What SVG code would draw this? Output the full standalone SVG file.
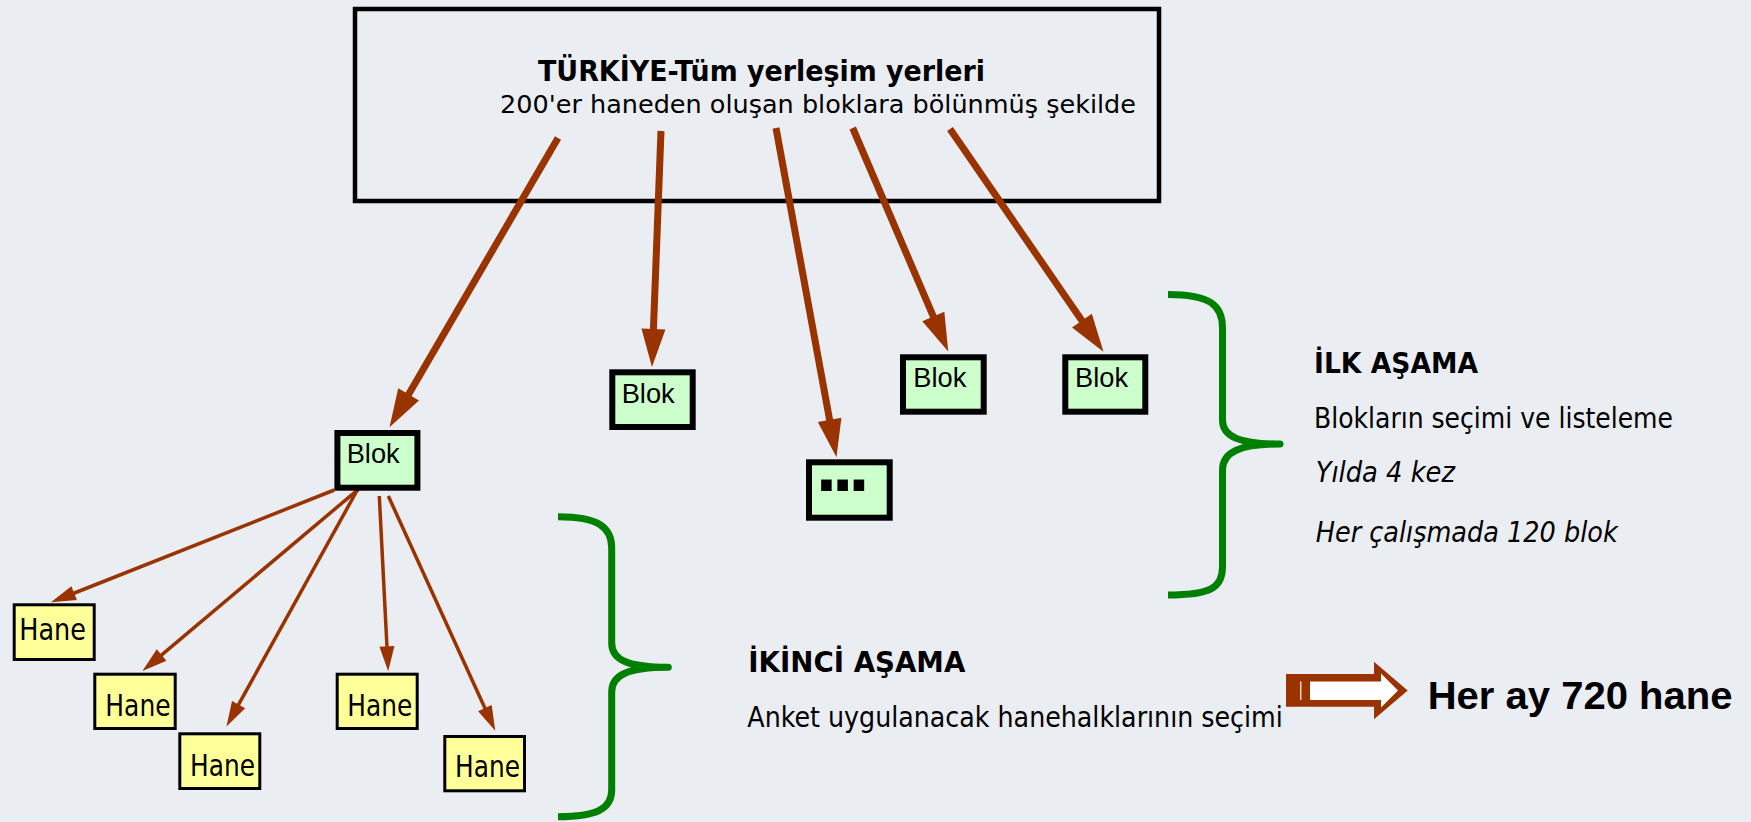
<svg xmlns="http://www.w3.org/2000/svg" width="1751" height="822" viewBox="0 0 1751 822">
<defs>
<style>
.bg{fill:#EAEDF2}
.main{fill:none;stroke:#000;stroke-width:4.5}
.blok{fill:#CCFFCC;stroke:#000;stroke-width:6}
.hane{fill:#FFFF99;stroke:#000;stroke-width:3}
.t{font-family:"DejaVu Sans","Noto Sans",sans-serif;fill:#000}
.b{font-weight:bold}
.i{font-style:italic}
.bl{font-family:"Liberation Sans",Arial,sans-serif;font-size:28px;fill:#000}
.thick{stroke:#993300;stroke-width:7;fill:none;marker-end:url(#ah1)}
.thin{stroke:#993300;stroke-width:3.5;fill:none;marker-end:url(#ah2)}
.brace{fill:none;stroke:#008000;stroke-width:7;stroke-linejoin:round}
</style>
<marker id="ah1" markerUnits="userSpaceOnUse" markerWidth="40" markerHeight="26" refX="1" refY="12" orient="auto" overflow="visible"><path d="M0,0 L38,12 L0,24 z" fill="#993300"/></marker>
<marker id="ah2" markerUnits="userSpaceOnUse" markerWidth="27" markerHeight="17" refX="1" refY="7.5" orient="auto" overflow="visible"><path d="M0,0 L25,7.5 L0,15 z" fill="#993300"/></marker>
</defs>
<rect class="bg" x="0" y="0" width="1751" height="822"/>

<g id="turkiye">
<rect class="main" x="355" y="9" width="804" height="192"/>
<text class="t b" x="538" y="80.5" font-size="27.5" textLength="447" lengthAdjust="spacingAndGlyphs">TÜRKİYE-Tüm yerleşim yerleri</text>
<text class="t" x="500" y="113" font-size="25.5" textLength="636" lengthAdjust="spacingAndGlyphs">200'er haneden oluşan bloklara bölünmüş şekilde</text>
</g>

<g id="connectors">
<path class="thick" d="M558,138 L408.1,395.2"/>
<path class="thick" d="M661,131 L653.4,330"/>
<path class="thick" d="M776,128 L829.8,420.9"/>
<path class="thick" d="M852.7,128 L933.7,317.4"/>
<path class="thick" d="M950,129 L1082.5,321.4"/>
<path class="thin" d="M334.3,490 L73.2,593.5"/>
<path class="thin" d="M358.3,489.3 L160.8,655.6"/>
<path class="thin" d="M357.3,490 L238.1,705.4"/>
<path class="thin" d="M379.3,496 L387,647.3"/>
<path class="thin" d="M388.3,496 L485.3,709"/>
</g>

<g id="blok1"><rect class="blok" x="337.4" y="433" width="80" height="54.7"/><text class="bl" x="346.7" y="463.3" textLength="53" lengthAdjust="spacingAndGlyphs">Blok</text></g>
<g id="blok2"><rect class="blok" x="612.3" y="372.3" width="80.4" height="54.7"/><text class="bl" x="621.7" y="402.7" textLength="53" lengthAdjust="spacingAndGlyphs">Blok</text></g>
<g id="blok3"><rect class="blok" x="903" y="357.3" width="80.7" height="54.4"/><text class="bl" x="913.3" y="386.7" textLength="53" lengthAdjust="spacingAndGlyphs">Blok</text></g>
<g id="blok4"><rect class="blok" x="1065.3" y="357.3" width="80" height="54.4"/><text class="bl" x="1075" y="386.7" textLength="53" lengthAdjust="spacingAndGlyphs">Blok</text></g>
<g id="blok-dots"><rect class="blok" x="809" y="462.3" width="80.7" height="55.4"/><text class="t b" x="815" y="490.7" font-size="60" letter-spacing="-6.5">...</text></g>

<g id="hane1"><rect class="hane" x="14.2" y="604.8" width="80" height="54.7"/><text class="t" x="19.3" y="640" font-size="29.5" textLength="66.7" lengthAdjust="spacingAndGlyphs">Hane</text></g>
<g id="hane2"><rect class="hane" x="94.8" y="674.2" width="80.4" height="54.3"/><text class="t" x="105.3" y="715.7" font-size="29.5" textLength="65.3" lengthAdjust="spacingAndGlyphs">Hane</text></g>
<g id="hane3"><rect class="hane" x="179.8" y="733.8" width="80" height="54.7"/><text class="t" x="190" y="775.7" font-size="29.5" textLength="65" lengthAdjust="spacingAndGlyphs">Hane</text></g>
<g id="hane4"><rect class="hane" x="337.2" y="674.2" width="80" height="54.3"/><text class="t" x="347.3" y="715.7" font-size="29.5" textLength="65" lengthAdjust="spacingAndGlyphs">Hane</text></g>
<g id="hane5"><rect class="hane" x="444.8" y="736.5" width="79.7" height="54.3"/><text class="t" x="455" y="777.3" font-size="29.5" textLength="65" lengthAdjust="spacingAndGlyphs">Hane</text></g>

<g id="ilk-asama">
<path class="brace" d="M1168,294.5 C1210,294.5 1222.5,305 1222.5,328 L1222.5,420 C1222.5,437 1240,444 1280,444 C1240,444 1222.5,452 1222.5,470 L1222.5,567 C1222.5,588 1210,595 1168,595"/>
<text class="t b" x="1314" y="372.7" font-size="27.5" textLength="164" lengthAdjust="spacingAndGlyphs">İLK AŞAMA</text>
<text class="t" x="1314" y="427.7" font-size="27.5" textLength="359" lengthAdjust="spacingAndGlyphs">Blokların seçimi ve listeleme</text>
<text class="t i" x="1315.7" y="481.7" font-size="27.5" textLength="139.3" lengthAdjust="spacingAndGlyphs">Yılda 4 kez</text>
<text class="t i" x="1315.7" y="541.7" font-size="27.5" textLength="302" lengthAdjust="spacingAndGlyphs">Her çalışmada 120 blok</text>
</g>

<g id="ikinci-asama">
<path class="brace" d="M558,516.7 C598,516.7 611.7,527 611.7,548 L611.7,643 C611.7,660 628,667.3 668.3,667.3 C628,667.3 611.7,675 611.7,692 L611.7,790 C611.7,808 598,816.7 558,816.7"/>
<text class="t b" x="748.3" y="671.7" font-size="27.5" textLength="217" lengthAdjust="spacingAndGlyphs">İKİNCİ AŞAMA</text>
<text class="t" x="747.3" y="726.7" font-size="28" textLength="535.5" lengthAdjust="spacingAndGlyphs">Anket uygulanacak hanehalklarının seçimi</text>
</g>

<g id="sonuc">
<polygon points="1286,674 1374,674 1374,661.7 1407.7,690.5 1374,719.3 1374,706.7 1286,706.7" fill="#993300"/>
<polygon points="1310,681.5 1381,681.5 1381,673.5 1398,690.5 1381,707.5 1381,700 1310,700" fill="#FFFFFF"/>
<rect x="1300" y="681.5" width="1.5" height="18.5" fill="#FFFFFF" fill-opacity="0.8"/>
<text x="1427.7" y="709.3" font-family="'Liberation Sans',Arial,sans-serif" font-weight="bold" font-size="39.5" fill="#000" textLength="304.7" lengthAdjust="spacingAndGlyphs">Her ay 720 hane</text>
</g>
</svg>
